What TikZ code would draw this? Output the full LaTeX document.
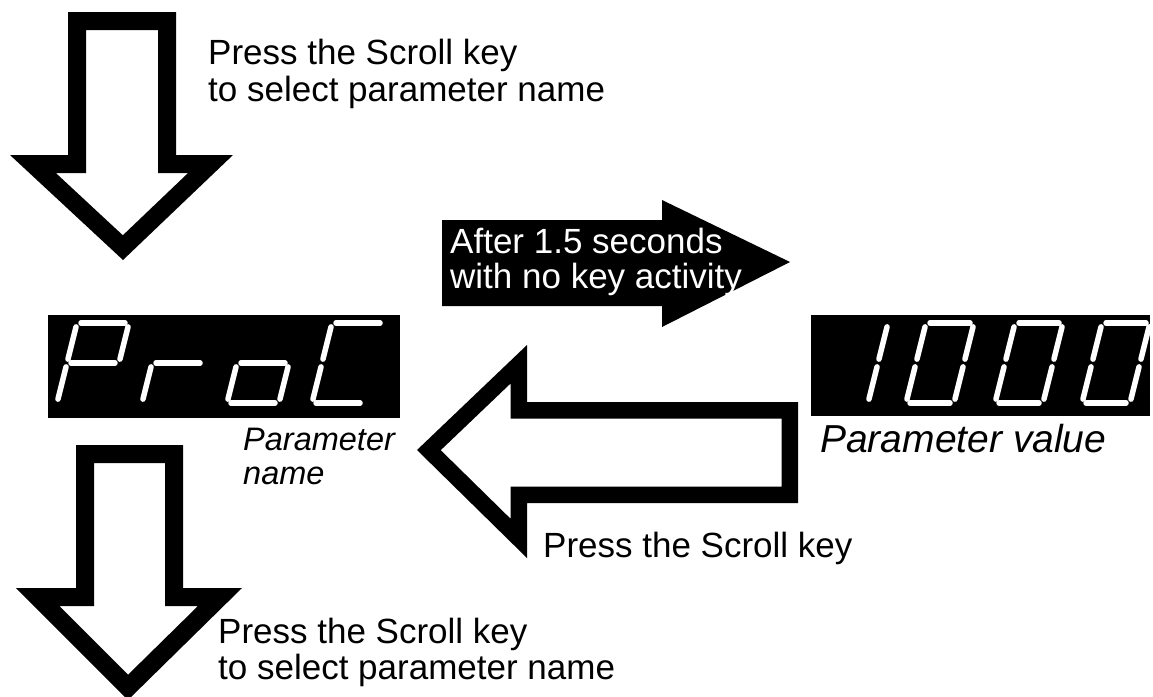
\documentclass[tikz,border=0pt]{standalone}
\usepackage{fontspec}
\setmainfont{Liberation Sans}
\begin{document}
\begin{tikzpicture}[x=1pt,y=-1pt]
\tikzset{
  txt/.style={anchor=base west, inner sep=0pt, font=\fontsize{35}{41}\selectfont},
  itxt/.style={txt, font=\fontsize{32.5}{40}\selectfont\itshape},
  seg/.style={draw=white, line width=5.5pt, line cap=round, shorten <=4pt, shorten >=4pt},
  hollow/.style={draw=black, line join=miter},
  toparrow/.style={insert path={(68,12) -- (176,12) -- (176,155) -- (233,155) -- (123,260) -- (10,155) -- (68,155) -- cycle}},
  botarrow/.style={insert path={(76,445) -- (183,445) -- (183,588) -- (242,588) -- (128,700) -- (16,588) -- (76,588) -- cycle}},
  leftarrow/.style={insert path={(417,450) -- (527,345) -- (527,402) -- (798,402) -- (798,503) -- (527,503) -- (527,558) -- cycle}},
}
\newcommand\digitsegs[4]{%
  \begin{scope}[shift={(#1,#2)}]
    \coordinate (BL) at (0,0);
    \coordinate (BR) at (#3,0);
    \coordinate (ML) at (10,-40);
    \coordinate (MR) at ({#3+10},-40);
    \coordinate (TL) at (20,-80);
    \coordinate (TR) at ({#3+20},-80);
    \foreach \p/\q in {#4} { \draw[seg] (\p) -- (\q); }
  \end{scope}}
\useasboundingbox (0,0) rectangle (1153,696);
\fill[white] (0,0) rectangle (1153,696);

% top hollow arrow
\begin{scope}
  \clip[toparrow];
  \draw[hollow, line width=36pt, toparrow];
\end{scope}
\node[txt] (t1) at (208,64) {Press the Scroll key};
\node[txt] (t2) at (208,101) {to select parameter name};

% black right arrow
\fill[black] (442,220) -- (662,220) -- (662,200) -- (790,262) -- (662,327) -- (662,306) -- (442,306) -- cycle;
\node[txt, text=white] (r1) at (450,253) {After 1.5 seconds};
\node[txt, text=white] (r2) at (450,288) {with no key activity};

% display 1
\fill[black] (48,315) rectangle (400,418);
\digitsegs{57}{403}{52}{TL/TR, TR/MR, TL/ML, ML/MR, ML/BL}
\digitsegs{142}{403}{52}{ML/MR, ML/BL}
\digitsegs{227}{403}{52}{ML/MR, MR/BR, BL/BR, ML/BL}
\digitsegs{312}{403}{52}{TL/TR, TL/ML, ML/BL, BL/BR}
\node[itxt] (pn1) at (243,450) {Parameter};
\node[itxt] (pn2) at (243,484) {name};

% display 2
\fill[black] (811,315) rectangle (1150,416);
\digitsegs{820}{403}{48}{TR/MR, MR/BR}
\digitsegs{906}{403}{48}{TL/TR, TR/MR, MR/BR, BL/BR, ML/BL, TL/ML}
\digitsegs{995}{403}{48}{TL/TR, TR/MR, MR/BR, BL/BR, ML/BL, TL/ML}
\digitsegs{1082}{403}{48}{TL/TR, TR/MR, MR/BR, BL/BR, ML/BL, TL/ML}
\node[itxt, font=\fontsize{39}{44}\selectfont\itshape] (pv) at (820,452) {Parameter value};

% left hollow arrow
\begin{scope}
  \clip[leftarrow];
  \draw[hollow, line width=33pt, leftarrow];
\end{scope}
\node[txt] (m1) at (543,557) {Press the Scroll key};

% bottom hollow arrow
\begin{scope}
  \clip[botarrow];
  \draw[hollow, line width=36pt, botarrow];
\end{scope}
\node[txt] (b1) at (218,643) {Press the Scroll key};
\node[txt] (b2) at (218,679) {to select parameter name};
\end{tikzpicture}
\end{document}
